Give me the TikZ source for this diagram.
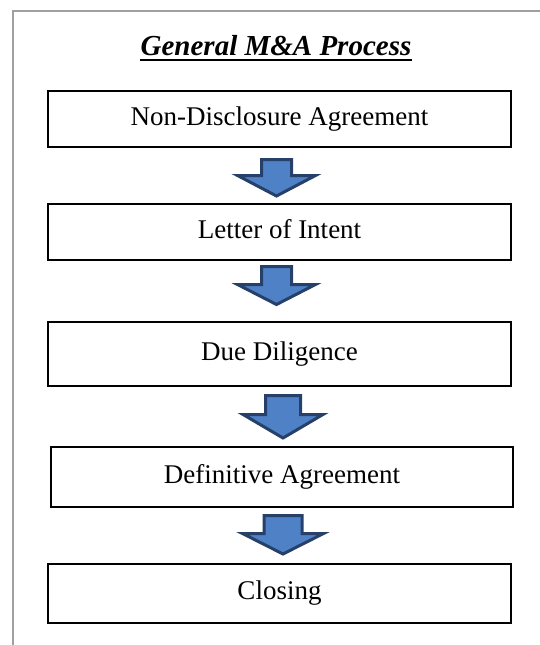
\documentclass[tikz,border=0pt]{standalone}
\usepackage{fontspec}
\setmainfont{Liberation Serif}
\definecolor{arrowfill}{RGB}{79,129,199}
\definecolor{arrowline}{RGB}{38,64,105}
\definecolor{framegray}{RGB}{160,160,160}
\tikzset{
  stepbox/.style={draw=black, line width=1.6pt, fill=white, inner sep=0pt,
    text height=18pt, text depth=6pt,
    font=\fontsize{27}{32}\selectfont},
  blockarrow/.style={fill=arrowfill, draw=arrowline, line width=3pt, line join=miter}
}
\begin{document}
\begin{tikzpicture}[x=1pt,y=-1pt]
\useasboundingbox (0,0) rectangle (540,645);
% outer frame
\draw[framegray, line width=1.2pt] (13,645) -- (13,11) -- (540,11);
% title
\node[font=\bfseries\itshape\fontsize{29}{34}\selectfont, inner sep=0pt, anchor=base] (title) at (276,55) {General M\&A Process};
\draw[line width=1.8pt] ([yshift=-5pt]title.base west) -- ([yshift=-5pt]title.base east);
% boxes
\node[stepbox, minimum width=463pt, minimum height=56pt] (nda) at (279.5,119) {Non-Disclosure Agreement};
\node[stepbox, minimum width=463pt, minimum height=56pt] (loi) at (279.5,232) {Letter of Intent};
\node[stepbox, minimum width=463pt, minimum height=64pt] (dd) at (279.5,354) {Due Diligence};
\node[stepbox, minimum width=462pt, minimum height=60pt] (da) at (282,477) {Definitive Agreement};
\node[stepbox, minimum width=463pt, minimum height=59pt] (cl) at (279.5,593.5) {Closing};
% block arrows
\draw[blockarrow] (261.5,159.5) -- (291.5,159.5) -- (291.5,175.5) -- (315.5,175.5) -- (276.5,196) -- (237.5,175.5) -- (261.5,175.5) -- cycle;
\draw[blockarrow] (261.5,266.5) -- (291.5,266.5) -- (291.5,284.5) -- (315.5,284.5) -- (276.5,304.5) -- (237.5,284.5) -- (261.5,284.5) -- cycle;
\draw[blockarrow] (265.5,395.5) -- (300.5,395.5) -- (300.5,414.5) -- (323,414.5) -- (283,438) -- (243,414.5) -- (265.5,414.5) -- cycle;
\draw[blockarrow] (264,515.5) -- (302,515.5) -- (302,533.5) -- (323.5,533.5) -- (283,554) -- (242.5,533.5) -- (264,533.5) -- cycle;
\end{tikzpicture}
\end{document}
